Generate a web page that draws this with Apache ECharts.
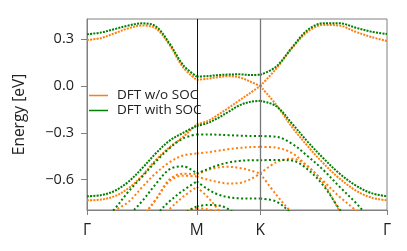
<!DOCTYPE html>
<html><head><meta charset="utf-8">
<script src="https://cdn.jsdelivr.net/npm/echarts@6/dist/echarts.min.js"></script>
<style>html,body{margin:0;padding:0;background:#fff}#c{width:407px;height:251px}</style>
</head><body><div id="c"></div>
<script>
// k-path sample positions (Γ-M, M-K, K-Γ segments)
const kGM = [0, 0.0722, 0.1443, 0.2165, 0.2887, 0.3608, 0.4330, 0.5052, 0.5774];
const kMK = [0.5774, 0.6329, 0.6885, 0.7440, 0.7996, 0.8551, 0.9107];
const kKG = [0.9107, 0.9940, 1.0774, 1.1607, 1.2440, 1.3274, 1.4107, 1.4940, 1.5774];
const symK = [0, 0.5774, 0.9107, 1.5774];
const symLabels = ['Γ', 'M', 'K', 'Γ'];
const yTicks = [-0.6, -0.3, 0.0, 0.3];

// DFT w/o SOC bands: [Γ-M, M-K, K-Γ]
const noSoc1 = [[0.296, 0.307, 0.338, 0.370, 0.388, 0.370, 0.265, 0.120, 0.039],
                [0.039, 0.047, 0.057, 0.063, 0.056, 0.030, 0.000],
                [0.000, 0.110, 0.242, 0.349, 0.392, 0.388, 0.349, 0.315, 0.289]];
const noSoc2 = [[-0.733, -0.728, -0.707, -0.657, -0.576, -0.476, -0.394, -0.326, -0.244],
                [-0.244, -0.225, -0.185, -0.140, -0.093, -0.047, 0.000],
                [0.000, -0.119, -0.262, -0.386, -0.497, -0.593, -0.668, -0.715, -0.733]];
const noSoc3 = [[-0.95, -0.88, -0.80, -0.745, -0.65, -0.56, -0.49, -0.445, -0.433],
                [-0.433, -0.425, -0.415, -0.405, -0.397, -0.392, -0.390],
                [-0.390, -0.395, -0.430, -0.515, -0.610, -0.710, -0.795, -0.90, -0.95]];
const noSoc4 = [[-1.10, -1.05, -1.00, -0.93, -0.84, -0.73, -0.60, -0.562, -0.565],
                [-0.565, -0.540, -0.522, -0.518, -0.525, -0.540, -0.561],
                [-0.561, -0.490, -0.466, -0.515, -0.625, -0.80, -0.95, -1.05, -1.10]];
const noSoc5 = [[-1.10, -1.05, -1.00, -0.93, -0.84, -0.73, -0.61, -0.575, -0.580],
                [-0.580, -0.600, -0.615, -0.625, -0.622, -0.600, -0.561],
                [-0.561, -0.695, -0.815, -0.93, -1.05, -1.10, -1.15, -1.20, -1.20]];
const noSoc6 = [[-1.20, -1.15, -1.10, -1.05, -0.97, -0.88, -0.79, -0.71, -0.647],
                [-0.647, -0.710, -0.790, -0.880, -0.950, -1.000, -1.050],
                [-1.05, -1.10, -1.15, -1.20, -1.25, -1.25, -1.25, -1.25, -1.25]];
const noSoc7 = [[-1.30, -1.25, -1.20, -1.15, -1.05, -0.95, -0.87, -0.81, -0.785],
                [-0.785, -0.790, -0.810, -0.850, -0.900, -0.950, -1.000],
                [-1.00, -1.10, -1.20, -1.25, -1.30, -1.30, -1.30, -1.30, -1.30]];

// DFT with SOC bands: [Γ-M, M-K, K-Γ]
const soc1 = [[0.332, 0.343, 0.365, 0.388, 0.402, 0.384, 0.275, 0.135, 0.060],
              [0.060, 0.064, 0.070, 0.074, 0.075, 0.071, 0.072],
              [0.072, 0.124, 0.246, 0.360, 0.403, 0.403, 0.375, 0.349, 0.334]];
const soc2 = [[-0.707, -0.700, -0.673, -0.615, -0.529, -0.433, -0.351, -0.300, -0.255],
              [-0.255, -0.238, -0.205, -0.165, -0.125, -0.102, -0.095],
              [-0.095, -0.128, -0.240, -0.358, -0.465, -0.561, -0.636, -0.686, -0.707]];
const soc3 = [[-0.95, -0.88, -0.79, -0.679, -0.583, -0.486, -0.400, -0.336, -0.310],
              [-0.310, -0.310, -0.312, -0.315, -0.318, -0.320, -0.321],
              [-0.321, -0.325, -0.370, -0.450, -0.540, -0.645, -0.745, -0.85, -0.90]];
const soc4 = [[-1.00, -0.95, -0.90, -0.83, -0.74, -0.63, -0.535, -0.515, -0.561],
              [-0.561, -0.533, -0.508, -0.490, -0.480, -0.476, -0.476],
              [-0.476, -0.474, -0.478, -0.535, -0.640, -0.790, -0.93, -1.05, -1.10]];
const soc5 = [[-1.20, -1.15, -1.10, -1.00, -0.93, -0.83, -0.74, -0.67, -0.612],
              [-0.612, -0.660, -0.695, -0.713, -0.720, -0.722, -0.722],
              [-0.722, -0.740, -0.820, -0.920, -1.00, -1.10, -1.15, -1.20, -1.20]];
const soc6 = [[-1.30, -1.25, -1.20, -1.15, -1.10, -1.00, -0.90, -0.82, -0.772],
              [-0.772, -0.763, -0.765, -0.790, -0.840, -0.880, -0.900],
              [-0.90, -0.95, -1.00, -1.10, -1.20, -1.25, -1.30, -1.30, -1.30]];

const NO_SOC = 'DFT w/o SOC', WITH_SOC = 'DFT with SOC';
const ORANGE = '#ff7f0e', GREEN = '#008000';
const noSocBands = [noSoc1, noSoc2, noSoc3, noSoc4, noSoc5, noSoc6, noSoc7];
const socBands = [soc1, soc2, soc3, soc4, soc5, soc6];
const segK = [kGM, kMK, kKG];

const series = [];
function addBands(bands, name, color) {
  bands.forEach((band, bi) => {
    const dense = bi < 2;
    band.forEach((seg, si) => {
      series.push({
        name: name, type: 'line', smooth: 0.35, showSymbol: false, silent: true,
        animation: false,
        data: seg.map((e, i) => [segK[si][i], e]),
        itemStyle: { color: color },
        lineStyle: { color: color, width: 2, type: dense ? [2, 1.2] : [2, 2.4], cap: 'butt' },
        z: color === GREEN ? 3 : 2
      });
    });
  });
}
addBands(noSocBands, NO_SOC, ORANGE);
addBands(socBands, WITH_SOC, GREEN);

series.push({
  type: 'line', data: [], silent: true, animation: false, z: 1,
  markLine: {
    symbol: 'none', silent: true, label: { show: false }, animation: false,
    data: [
      { xAxis: symK[1], lineStyle: { color: '#111', width: 1, type: 'solid' } },
      { xAxis: symK[2], lineStyle: { color: '#777', width: 1.3, type: 'solid' } }
    ]
  }
});

const font = 'Open Sans';
const chart = echarts.init(document.getElementById('c'), null, { renderer: 'canvas' });
chart.setOption({
  animation: false,
  grid: { left: 87, right: 20, top: 19, bottom: 41, show: true, borderColor: '#808080', borderWidth: 1, backgroundColor: 'transparent' },
  legend: {
    data: [NO_SOC, WITH_SOC], orient: 'vertical', left: 89, top: 88, padding: 0, itemGap: 0,
    icon: 'rect', itemWidth: 19, itemHeight: 1.5, selectedMode: false,
    textStyle: { fontFamily: font, fontSize: 13.5, color: '#222', lineHeight: 15, padding: [0, 0, 0, 4] }
  },
  xAxis: {
    type: 'value', min: 0, max: symK[3],
    axisLine: { onZero: false, lineStyle: { color: '#808080' } },
    axisTick: { customValues: symK, length: 5, lineStyle: { color: '#808080' } },
    axisLabel: {
      customValues: symK, margin: 13, fontFamily: font, fontSize: 15.5, color: '#222',
      formatter: v => { const i = symK.findIndex(s => Math.abs(s - v) < 1e-6); return i >= 0 ? symLabels[i] : ''; }
    },
    splitLine: { show: false }
  },
  yAxis: {
    type: 'value', min: -0.795, max: 0.43,
    name: 'Energy [eV]', nameLocation: 'middle', nameGap: 59,
    nameTextStyle: { fontFamily: font, fontSize: 15.5, color: '#222' },
    axisLine: { show: true, onZero: false, lineStyle: { color: '#808080' } },
    axisTick: { show: true, customValues: yTicks, length: 6, lineStyle: { color: '#808080' } },
    axisLabel: {
      customValues: yTicks, margin: 13, fontFamily: font, fontSize: 14.5, color: '#222',
      formatter: v => (v < -1e-9 ? '\u2212' : '') + Math.abs(v).toFixed(1)
    },
    splitLine: { show: false }
  },
  series: series
});
</script></body></html>
